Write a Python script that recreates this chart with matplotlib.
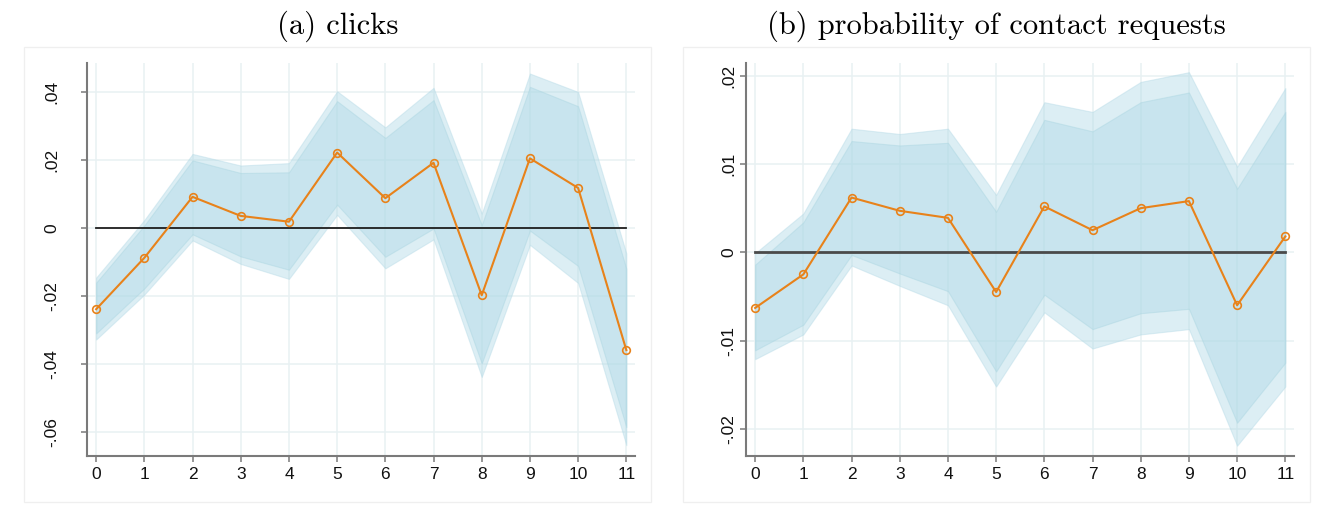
import matplotlib
matplotlib.use("Agg")
import matplotlib.pyplot as plt
from matplotlib.patches import Rectangle
from matplotlib.ticker import FixedLocator, FuncFormatter

# Event-time periods
periods = [0, 1, 2, 3, 4, 5, 6, 7, 8, 9, 10, 11]

# (a) clicks: point estimates with 90% and 95% confidence bounds
clicks_est = [-0.0239, -0.0088, 0.0091, 0.0035, 0.0018, 0.0221,
              0.0087, 0.0191, -0.0198, 0.0204, 0.0117, -0.0359]
clicks_hi95 = [-0.0146, 0.0023, 0.0217, 0.0183, 0.0190, 0.0401,
               0.0295, 0.0411, 0.0042, 0.0453, 0.0399, -0.0075]
clicks_hi90 = [-0.0161, 0.0007, 0.0198, 0.0161, 0.0163, 0.0372,
               0.0264, 0.0375, 0.0008, 0.0414, 0.0357, -0.0120]
clicks_lo90 = [-0.0310, -0.0178, -0.0019, -0.0084, -0.0123, 0.0068,
               -0.0085, -0.0002, -0.0398, -0.0008, -0.0112, -0.0585]
clicks_lo95 = [-0.0328, -0.0196, -0.0037, -0.0106, -0.0150, 0.0038,
               -0.0119, -0.0034, -0.0438, -0.0050, -0.0162, -0.0638]

# (b) probability of contact requests
contact_est = [-0.0063, -0.0025, 0.0062, 0.0047, 0.0039, -0.0045,
               0.0052, 0.0025, 0.0050, 0.0058, -0.0060, 0.0018]
contact_hi95 = [-0.0001, 0.0044, 0.0140, 0.0134, 0.0140, 0.0065,
                0.0170, 0.0159, 0.0193, 0.0204, 0.0097, 0.0186]
contact_hi90 = [-0.0014, 0.0034, 0.0126, 0.0121, 0.0124, 0.0046,
                0.0150, 0.0137, 0.0170, 0.0181, 0.0072, 0.0159]
contact_lo90 = [-0.0111, -0.0082, -0.0003, -0.0024, -0.0044, -0.0135,
                -0.0048, -0.0087, -0.0069, -0.0064, -0.0193, -0.0125]
contact_lo95 = [-0.0121, -0.0093, -0.0015, -0.0038, -0.0060, -0.0152,
                -0.0068, -0.0109, -0.0093, -0.0087, -0.0219, -0.0152]

clicks_yticks = [-0.06, -0.04, -0.02, 0.0, 0.02, 0.04]
contact_yticks = [-0.02, -0.01, 0.0, 0.01, 0.02]

titles = ["(a) clicks", "(b) probability of contact requests"]

W, H = 1330, 516
BAND = (0.678, 0.847, 0.902)
ORANGE = "#E8821A"
SPINE = "#7a7a7a"
GRID = "#E8F1F3"


def stata_label(v, pos=None):
    if abs(v) < 1e-12:
        return "0"
    s = f"{v:g}"
    return s.replace("0.", ".")


def px_rect(x0, y0, x1, y1):
    """Convert a pixel box (origin top-left) to figure fractions."""
    return [x0 / W, 1 - y1 / H, (x1 - x0) / W, (y1 - y0) / H]


fig = plt.figure(figsize=(W / 100, H / 100), dpi=100)

panels = [
    dict(box=(24, 47, 651, 502), ax=(87, 63, 635, 456), ylim=(-0.0670, 0.0484),
         yticks=clicks_yticks, est=clicks_est, hi95=clicks_hi95, hi90=clicks_hi90,
         lo90=clicks_lo90, lo95=clicks_lo95, zero=("#1e1e1e", 1.3), ypad=21.5),
    dict(box=(683, 47, 1310, 502), ax=(746, 63, 1294, 456), ylim=(-0.02307, 0.02144),
         yticks=contact_yticks, est=contact_est, hi95=contact_hi95, hi90=contact_hi90,
         lo90=contact_lo90, lo95=contact_lo95, zero=("#4a4a4a", 2.0), ypad=8.5),
]

for title, p in zip(titles, panels):
    bx0, by0, bx1, by1 = p["box"]
    fig.add_artist(Rectangle((bx0 / W, 1 - by1 / H), (bx1 - bx0) / W, (by1 - by0) / H,
                             transform=fig.transFigure, fill=False,
                             ec="#EFEFEF", lw=0.9))
    fig.text((bx0 + bx1) / 2 / W, 1 - 26 / H, title, ha="center", va="center",
             fontfamily="cmr10", fontsize=22)

    ax = fig.add_axes(px_rect(*p["ax"]))
    ax.set_xlim(-0.19, 11.18)
    ax.set_ylim(*p["ylim"])

    # confidence bands: 95% (outer, lighter) then 90% (inner, darker)
    ax.fill_between(periods, p["lo95"], p["hi95"], color=BAND, alpha=0.42,
                    lw=0.8, edgecolor=(0.70, 0.85, 0.90, 0.6), zorder=2)
    ax.fill_between(periods, p["lo90"], p["hi90"], color=BAND, alpha=0.42,
                    lw=0.8, edgecolor=(0.66, 0.83, 0.88, 0.6), zorder=2.1)

    ax.plot([periods[0], periods[-1]], [0, 0], color=p["zero"][0],
            lw=p["zero"][1], zorder=3)
    ax.plot(periods, p["est"], color=ORANGE, lw=1.5, marker="o", ms=5.5,
            mfc="none", mec=ORANGE, mew=1.2, zorder=4)

    ax.xaxis.set_major_locator(FixedLocator(periods))
    ax.yaxis.set_major_locator(FixedLocator(p["yticks"]))
    ax.yaxis.set_major_formatter(FuncFormatter(stata_label))
    ax.grid(True, color=GRID, lw=1.1, zorder=0)
    ax.set_axisbelow(True)

    for side in ("top", "right"):
        ax.spines[side].set_visible(False)
    for side in ("left", "bottom"):
        ax.spines[side].set_color(SPINE)
        ax.spines[side].set_linewidth(1.5)

    ax.tick_params(axis="both", direction="out", length=4, width=1.1,
                   color=SPINE, labelsize=12.5, labelcolor="#111111")
    ax.tick_params(axis="x", pad=4)
    ax.tick_params(axis="y", pad=p["ypad"])
    for lab in ax.get_yticklabels():
        lab.set_rotation(90)
        lab.set_va("center")
        lab.set_ha("center")
    for lab in ax.get_xticklabels() + ax.get_yticklabels():
        lab.set_fontfamily("Liberation Sans")

fig.savefig("out.png", dpi=100)
